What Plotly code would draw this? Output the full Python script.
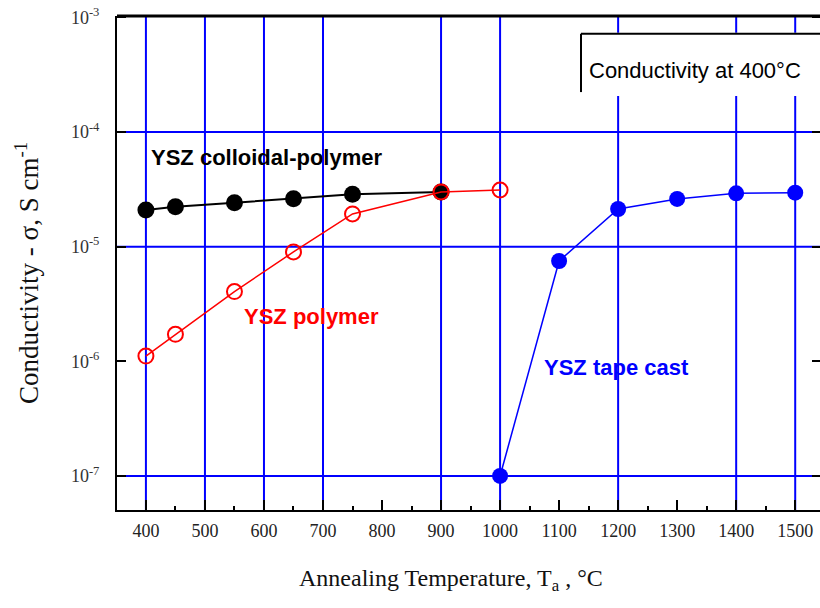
import plotly.graph_objects as go

# ---- data ----
temp_colloidal = [400, 450, 550, 650, 750, 900]
sigma_colloidal = [2.09e-5, 2.23e-5, 2.42e-5, 2.62e-5, 2.86e-5, 3.0e-5]

temp_polymer = [400, 450, 550, 650, 750, 900, 1000]
sigma_polymer = [1.11e-6, 1.72e-6, 4.06e-6, 9.0e-6, 1.93e-5, 3.0e-5, 3.12e-5]

temp_tape = [1000, 1100, 1200, 1300, 1400, 1500]
sigma_tape = [1.0e-7, 7.5e-6, 2.13e-5, 2.61e-5, 2.92e-5, 2.96e-5]

x_ticks = [400, 500, 600, 700, 800, 900, 1000, 1100, 1200, 1300, 1400, 1500]
y_ticks = [1e-7, 1e-6, 1e-5, 1e-4, 1e-3]
y_ticktext = ["10<sup>-7</sup>", "10<sup>-6</sup>", "10<sup>-5</sup>", "10<sup>-4</sup>", "10<sup>-3</sup>"]
grid_x = [400, 500, 600, 700, 900, 1000, 1200, 1400, 1500]
grid_y = [1e-7, 1e-5, 1e-4]

SERIF = "Liberation Serif"
SANS = "Liberation Sans"
BLUE = "#0000ff"

fig = go.Figure()

fig.add_trace(go.Scatter(
    x=temp_colloidal, y=sigma_colloidal, mode="lines+markers",
    line=dict(color="black", width=2),
    marker=dict(symbol="circle", size=17, color="black"),
    showlegend=False))
fig.add_trace(go.Scatter(
    x=temp_polymer, y=sigma_polymer, mode="lines+markers",
    line=dict(color="#ff0000", width=1.5),
    marker=dict(symbol="circle-open", size=15, color="#ff0000", line=dict(width=2)),
    showlegend=False))
fig.add_trace(go.Scatter(
    x=temp_tape, y=sigma_tape, mode="lines+markers",
    line=dict(color=BLUE, width=1.5),
    marker=dict(symbol="circle", size=16, color=BLUE),
    showlegend=False))
# invisible trace for right-side ticks
fig.add_trace(go.Scatter(x=[400], y=[1e-5], yaxis="y2", mode="markers",
                         marker=dict(opacity=0), showlegend=False, hoverinfo="skip"))

shapes = []
for gx in grid_x:
    shapes.append(dict(type="line", xref="x", yref="paper", x0=gx, x1=gx, y0=0, y1=1,
                       line=dict(color=BLUE, width=2), layer="below"))
for gy in grid_y:
    shapes.append(dict(type="line", xref="paper", yref="y", x0=0, x1=1, y0=gy, y1=gy,
                       line=dict(color=BLUE, width=2), layer="below"))
# white box for the label
shapes.append(dict(type="rect", xref="paper", yref="paper", x0=0.66, x1=1.0, y0=0.838, y1=0.966,
                   fillcolor="white", line=dict(width=0), layer="below"))
shapes.append(dict(type="line", xref="paper", yref="paper", x0=0.66, x1=1.0, y0=0.964, y1=0.964,
                   line=dict(color="black", width=2)))
shapes.append(dict(type="line", xref="paper", yref="paper", x0=0.66, x1=0.66, y0=0.846, y1=0.964,
                   line=dict(color="black", width=2)))
# top border
shapes.append(dict(type="line", xref="paper", yref="paper", x0=0, x1=1, y0=1, y1=1,
                   line=dict(color="black", width=3)))

annotations = [
    dict(text="Conductivity at 400°C", xref="paper", yref="paper", x=0.668, y=0.89,
         xanchor="left", yanchor="middle", showarrow=False,
         font=dict(family=SANS, size=22, color="black")),
    dict(text="<b>YSZ colloidal-polymer</b>", xref="x", yref="y", x=405, y=-4.218,
         xanchor="left", yanchor="middle", showarrow=False,
         font=dict(family=SANS, size=22, color="black")),
    dict(text="<b>YSZ polymer</b>", xref="x", yref="y", x=563, y=-5.605,
         xanchor="left", yanchor="middle", showarrow=False,
         font=dict(family=SANS, size=22, color="#ff0000")),
    dict(text="<b>YSZ tape cast</b>", xref="x", yref="y", x=1071, y=-6.05,
         xanchor="left", yanchor="middle", showarrow=False,
         font=dict(family=SANS, size=22, color=BLUE)),
    dict(text="Conductivity - σ, S cm<sup>-1</sup>", xref="paper", yref="paper",
         x=-0.128, y=0.48, xanchor="center", yanchor="middle", textangle=-90,
         showarrow=False, font=dict(family=SERIF, size=27, color="#111")),
    dict(text="Annealing Temperature, T<sub>a</sub> , °C", xref="paper", yref="paper",
         x=0.475, y=-0.1417, xanchor="center", yanchor="middle",
         showarrow=False, font=dict(family=SERIF, size=24, color="#111")),
]

fig.update_layout(
    width=820, height=608,
    margin=dict(l=117, r=0, t=16, b=98),
    paper_bgcolor="white", plot_bgcolor="white",
    shapes=shapes, annotations=annotations,
    xaxis=dict(
        range=[351, 1542], tickvals=x_ticks, ticks="inside", ticklen=10, tickwidth=2,
        tickcolor="black", showline=True, linecolor="black", linewidth=2,
        showgrid=False, zeroline=False,
        minor=dict(dtick=50, tick0=0, ticks="inside", ticklen=4, tickwidth=2, tickcolor="black"),
        tickfont=dict(family=SERIF, size=18, color="#222"),
        ticklabelstandoff=3,
    ),
    yaxis=dict(
        type="log", range=[-7.297, -2.988], tickvals=y_ticks, ticktext=y_ticktext,
        ticks="inside", ticklen=9, tickwidth=2, tickcolor="black",
        showline=True, linecolor="black", linewidth=2,
        showgrid=False, zeroline=False,
        tickfont=dict(family=SERIF, size=18, color="#333"),
        ticklabelstandoff=12,
    ),
    yaxis2=dict(
        type="log", range=[-7.297, -2.988], tickvals=y_ticks, overlaying="y", side="right",
        ticks="inside", ticklen=8, tickwidth=2, tickcolor="black",
        showticklabels=False, showline=False, showgrid=False, zeroline=False,
    ),
)

fig.write_html("out.html")
